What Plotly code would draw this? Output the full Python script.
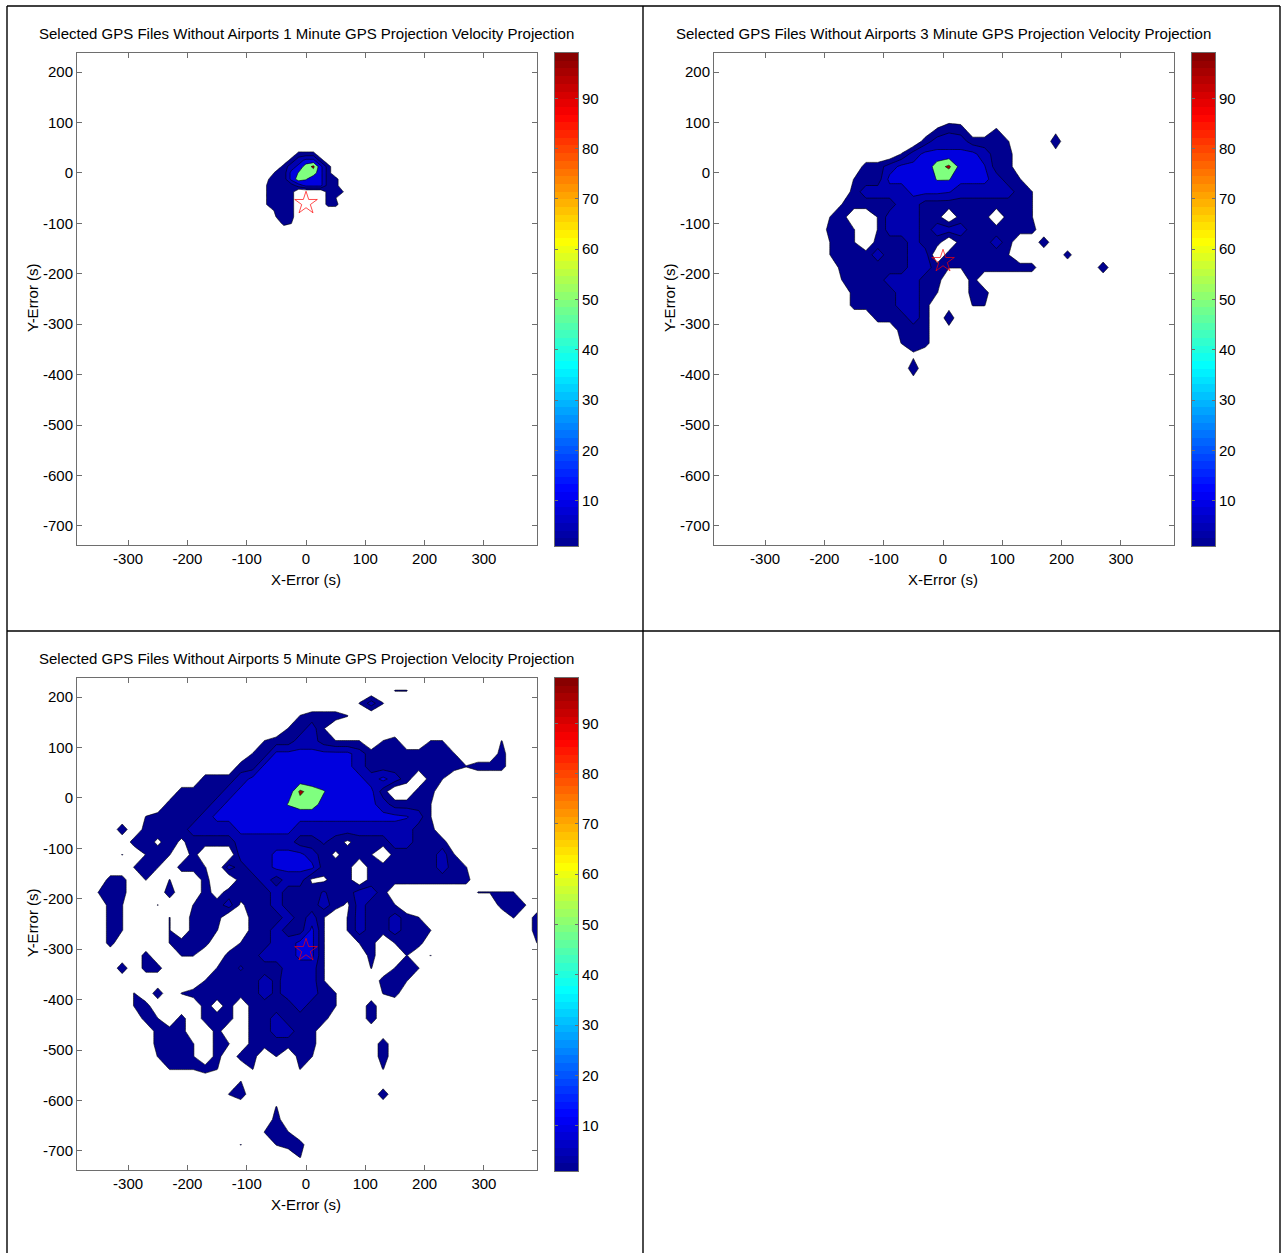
import numpy as np
import plotly.graph_objects as go

W, H = 1281, 1253
TITLES = ["Selected GPS Files Without Airports 1 Minute GPS Projection Velocity Projection",
          "Selected GPS Files Without Airports 3 Minute GPS Projection Velocity Projection",
          "Selected GPS Files Without Airports 5 Minute GPS Projection Velocity Projection"]
X_TICKS = [-300, -200, -100, 0, 100, 200, 300]
Y_TICKS = [200, 100, 0, -100, -200, -300, -400, -500, -600, -700]
CB_TICKS = [10, 20, 30, 40, 50, 60, 70, 80, 90]
STAR_Y = [-60, -175, -302]

# percentage for each letter in the rows below
PCT = {'.': 0, '^': 0.5, '~': 0.8, ',': 1.2, '1': 3, 'e': 4, 'd': 5.5, '2': 7, 'c': 12,
       '3': 20, 'h': 31, 'g': 52, '4': 70, '5': 99}
LEVELS = [0, 1, 5, 9, 49, 90, 130]

# (row, first column, values) runs of each density grid
GRID1 = [(3, -1, "111"), (2, -2, "12331"), (1, -3, "1234531"), (0, -4, "113g4431"),
         (-1, -5, ",1134g3311"), (-2, -5, "1111233311"), (-3, -5, "1111....11,"),
         (-4, -5, "1111....1,"), (-5, -5, "1111....11"), (-6, -4, "111"), (-7, -4, ",11"),
         (-8, -3, "1,")]

GRID2 = [(3, -1, ",e1"), (3, 4, ","), (3, 9, "^"), (2, -2, "1222111,"), (2, 9, "e"), (1, 9, "^"),
         (1, -4, ",233333211"), (0, -7, "11233345h3c11"),
         (-1, -8, ",113333gg33321,"), (-2, -8, "122223 33c222221,".replace(" ", "")),
         (-3, -9, ",111122111111111,"), (-4, -10, ",1..,22211.111.11,"),
         (-5, -10, "11,.,2221222111111"), (-6, -10, ",1,.1112" + "11." + "111" + "21"), (-6, 8, "e"),
         (-7, -10, ",111" + "211" + "22." + "11111,"), (-7, 10, "1"),
         (-8, -9, "111111" + "22" + "1,," + "111111"), (-8, 13, "e"),
         (-9, -9, ",111" + "222" + "11..1"), (-10, -8, "1111" + "22" + "1," + ".." + "11"),
         (-11, -8, "1111221"), (-11, 0, "^"), (-11, 2, ",,"), (-12, -6, "11121"), (-12, 0, "e"),
         (-13, 0, "^"), (-13, -4, "111"), (-14, -4, ",11"), (-15, -3, "~"), (-16, -3, "e"), (-17, -3, "^")]

GRID3 = [(8, 8, ",,"), (7, 5, ",2,"), (6, 0, ",111,"), (5, -1, ",12,"),
         (4, -3, ",11221,,,.,1..,,"), (4, 17, ","),
         (3, -4, ",1" + "3333333" + "2" + "1111111" + ","), (3, 17, "1"),
         (2, -5, "11" + "33333333" + "2" + "11111111" + "," + "111"),
         (1, -8, "1112" + "3333333333" + "232" + "1." + "1,"),
         (0, -10, "11112" + "33333" + "54g" + "3333" + "1" + ".." + "11"),
         (-1, -11, "1111" + "2" + "33333" + "g44h" + "3333" + "2" + "111" + ","),
         (-2, -13, ",1111" + "2" + "3333333333333333" + "c2,"),
         (-3, -15, "e"), (-3, -13, "1111" + "2222" + "33333" + "2222222222" + "11"),
         (-4, -14, "11~1~1111" + "22222" + "11d1~111" + "22" + "111"),
         (-5, -15, ","), (-5, -13, ",1,.1...222333" + "21~11,.1111" + "2,"),
         (-6, -14, ",1,.11,.21" + "22" + "3333" + "111" + "." + "111111" + "21,"),
         (-7, -16, "11"), (-7, -13, ","), (-7, -11, ","),
         (-7, -8, "1..11" + "2122" + "~~" + "11" + "." + "111111111"),
         (-8, -17, ",11"), (-8, -11, "e"),
         (-8, -8, "1^1111" + "2" + "111" + "d" + "11" + "22" + "1"), (-8, 15, ",,,,"),
         (-9, -16, "1,"), (-9, -12, ","),
         (-9, -9, ",112~11" + "2111" + "21~21" + "1,"), (-9, 17, "11,"),
         (-10, -16, "1,"), (-10, -11, ","),
         (-10, -9, "111..111" + "212" + ",.," + "2112" + "1,"), (-10, 18, ","), (-10, 20, "e1"),
         (-11, -16, "1,"), (-11, -11, ","), (-11, -9, "11,..112113,.,2112" + "11,"), (-11, 20, "e1"),
         (-12, -16, "1"), (-12, -11, ",111"), (-12, -5, ",112233,"), (-12, 5, ",1.,11"), (-12, 20, ",,"),
         (-13, -13, "1"), (-13, -10, ",,"), (-13, -6, "11122233,"), (-13, 6, "1"), (-13, 9, ","), (-13, 11, ","),
         (-14, -15, "e"), (-14, -13, "11"), (-14, -7, ",1d111222,"), (-14, 6, ","), (-14, 8, ",1,"),
         (-15, -8, ",11112e222,"), (-15, 7, "11,"),
         (-16, -14, ","), (-16, -12, "e"), (-16, -10, ",111111" + "2e222" + "1,"), (-16, 7, ",1"),
         (-17, -14, ",1"), (-17, -8, "1^1.1111211,"), (-17, 6, "e"),
         (-18, -13, "1,"), (-18, -10, "1"), (-18, -8, "111.1121111"), (-18, 6, "e"),
         (-19, -12, "111"), (-19, -7, "1"), (-19, -4, "112211"),
         (-20, -12, "111,"), (-20, -7, "1,"), (-20, -4, "111111"), (-20, 7, "e"),
         (-21, -12, ",11,"), (-21, -7, "1"), (-21, -5, "11"), (-21, -2, ","), (-21, 0, "1,"), (-21, 7, "e"),
         (-22, -11, ",,,1,"), (-22, -4, ","), (-22, 0, ","), (-22, 7, ","),
         (-23, -5, ","), (-24, -6, ",e"), (-24, 7, "e"),
         (-25, -2, ","), (-26, -2, "1"), (-27, -3, ",1,"), (-28, -5, ","), (-28, -2, ",11"), (-29, 0, ",")]

# grid origin and spacing in seconds: x0, dx, y0, dy
SPACING = [(0, 12.5, 0, 12.5), (10, 20, 12.5, 25), (-10, 20, 12.5, 25)]


def build(runs, x0, dx, y0, dy):
    cols = [c + i for r, c, s in runs for i in range(len(s))]
    rows = [r for r, c, s in runs]
    kmin, kmax = min(cols) - 1, max(cols) + 1
    jmin, jmax = min(rows) - 1, max(rows) + 1
    z = np.zeros((jmax - jmin + 1, kmax - kmin + 1))
    for r, c, s in runs:
        for i, ch in enumerate(s):
            z[r - jmin, c + i - kmin] = PCT[ch]
    return x0 + dx * np.arange(kmin, kmax + 1), y0 + dy * np.arange(jmin, jmax + 1), z


# stepped scale: white below the first level, then one colour per band
BANDS = ['#FFFFFF', '#00008F', '#0000AF', '#0000DF', '#7FFF7F', '#A00000']
STEP = []
for i, c in enumerate(BANDS):
    STEP += [[i / len(BANDS), c], [(i + 1) / len(BANDS), c]]

JET = [[0, '#00008F'], [7 / 63, '#0000FF'], [23 / 63, '#00FFFF'], [31 / 63, '#7FFF7F'],
       [39 / 63, '#FFFF00'], [55 / 63, '#FF0000'], [1, '#800000']]

# panel boxes in pixels: left, right, top, bottom
BOXES = [(77, 537, 53, 545), (714, 1174, 53, 545), (77, 537, 678, 1170)]
CBARS = [(555, 578, 53, 546), (1192, 1215, 53, 546), (555, 578, 678, 1171)]
X_RANGE = [-386.2, 389.5]
Y_RANGE = [-737.7, 237.7]
AXCOL = '#6e6e6e'
FONT = dict(family="Liberation Sans", size=15, color="black")

fig = go.Figure()
layout = dict(width=W, height=H, autosize=False, margin=dict(l=0, r=0, t=0, b=0),
              paper_bgcolor='white', plot_bgcolor='white', showlegend=False, font=FONT)
annotations = []
cb_vals = np.linspace(1, 99, 65)

for n, (runs, box, cb, title, star) in enumerate(zip([GRID1, GRID2, GRID3], BOXES, CBARS, TITLES, STAR_Y)):
    x, y, z = build(runs, *SPACING[n])
    zi = np.interp(z, LEVELS, range(len(LEVELS)))
    xa, ya = 2 * n + 1, 2 * n + 2
    cxa, cya = 2 * n + 7, 2 * n + 8
    fig.add_trace(go.Contour(x=x, y=y, z=zi, xaxis=f'x{xa}', yaxis=f'y{ya}', showscale=False,
                             autocontour=False, colorscale=STEP, hoverinfo='skip',
                             contours=dict(start=1, end=5, size=1, coloring='fill', showlines=True),
                             line=dict(color='black', width=0.6, smoothing=0), zmin=0.5, zmax=5.5))
    fig.add_trace(go.Scatter(x=[0], y=[star], mode='markers', xaxis=f'x{xa}', yaxis=f'y{ya}',
                             marker=dict(symbol='star-open', size=17, color='red',
                                         line=dict(color='red', width=0.7))))
    fig.add_trace(go.Heatmap(x=[0, 1], y=cb_vals, z=[[v, v] for v in (cb_vals[:-1] + cb_vals[1:]) / 2],
                             xaxis=f'x{cxa}', yaxis=f'y{cya}', showscale=False, colorscale=JET,
                             zmin=1, zmax=99, hoverinfo='skip'))
    l, r, t, b = box
    common = dict(showgrid=False, zeroline=False, showline=True, linecolor=AXCOL, linewidth=1,
                  mirror='allticks', ticks='inside', ticklen=5, tickcolor=AXCOL, tickwidth=1,
                  tickfont=FONT)
    layout[f'xaxis{xa}'] = dict(common, domain=[l / W, r / W], range=X_RANGE, tickvals=X_TICKS,
                                ticktext=[str(v) for v in X_TICKS], anchor=f'y{ya}')
    layout[f'yaxis{ya}'] = dict(common, domain=[1 - b / H, 1 - t / H], range=Y_RANGE, tickvals=Y_TICKS,
                                ticktext=[str(v) for v in Y_TICKS], anchor=f'x{xa}')
    cl, cr, ct, cb_b = cb
    layout[f'xaxis{cxa}'] = dict(domain=[cl / W, cr / W], range=[0, 1], showticklabels=False, ticks='',
                                 showgrid=False, zeroline=False, showline=True, linecolor=AXCOL,
                                 mirror=True, anchor=f'y{cya}')
    layout[f'yaxis{cya}'] = dict(common, domain=[1 - cb_b / H, 1 - ct / H], range=[1, 99], side='right',
                                 tickvals=CB_TICKS, ticklen=3, anchor=f'x{cxa}')
    cx = (l + r) / 2
    annotations += [
        dict(text=title, x=(cx - 1) / W, y=1 - (t - 20) / H, font=FONT),
        dict(text="X-Error (s)", x=(cx - 1) / W, y=1 - (b + 34) / H, font=FONT),
        dict(text="Y-Error (s)", x=(l - 45) / W, y=1 - (t + 245) / H, textangle=-90, font=FONT),
    ]

for a in annotations:
    a.update(xref='paper', yref='paper', showarrow=False, xanchor='center', yanchor='middle')

def seg(x0, y0, x1, y1):
    return dict(type='line', xref='paper', yref='paper', x0=x0 / W, x1=x1 / W, y0=1 - y0 / H, y1=1 - y1 / H,
                line=dict(color='black', width=1.4))

layout['shapes'] = [seg(7, 6, 1280, 6), seg(7, 6, 7, 1253), seg(643, 6, 643, 1253),
                    seg(7, 631, 1280, 631), seg(1280, 6, 1280, 1253)]
layout['annotations'] = annotations
fig.update_layout(**layout)
fig.write_html("out.html", config=dict(displayModeBar=False),
               post_script="document.body.style.margin='0';")
